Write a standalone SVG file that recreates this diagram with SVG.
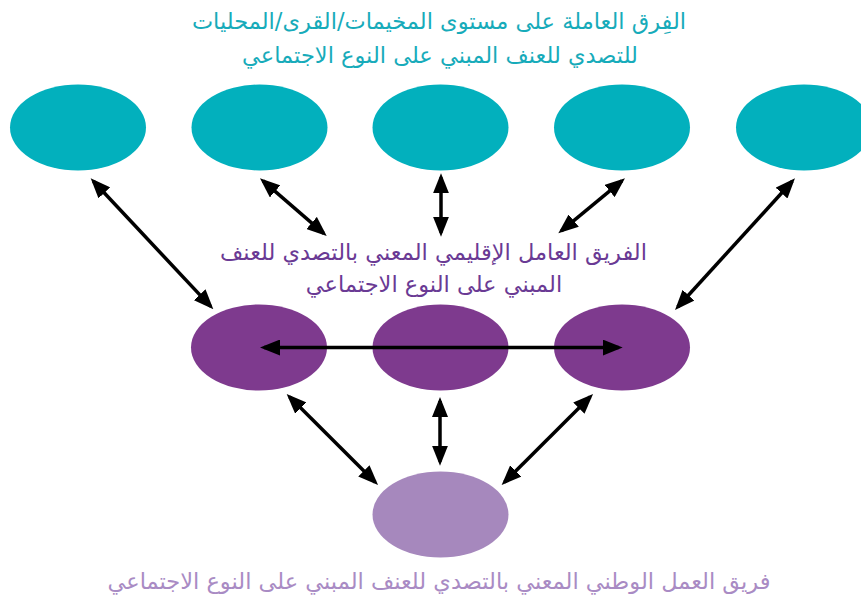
<svg xmlns="http://www.w3.org/2000/svg" width="861" height="600" viewBox="0 0 861 600">
<style>
.teal{fill:#02B0BD}
.purple{fill:#7E3A8E}
.light{fill:#A688BD}
.conn line{stroke:#000;stroke-width:3.5;marker-start:url(#ah);marker-end:url(#ah)}
text{font-family:"DejaVu Sans","Noto Sans",sans-serif;text-anchor:middle;direction:rtl;font-size:22.5px}
.t1{fill:#17ABBA}
.t2{fill:#6A3A94}
.t3{fill:#A98BC4}
</style>
<defs>
<marker id="ah" viewBox="0 0 20 16" refX="16" refY="8" markerWidth="20" markerHeight="16" markerUnits="userSpaceOnUse" orient="auto-start-reverse">
<path d="M0,0 L20,8 L0,16 Z" fill="#000"/>
</marker>
</defs>
<rect width="861" height="600" fill="#fff"/>
<g id="title-top"><text class="t1" x="439" y="29">الفِرق العاملة على مستوى المخيمات/القرى/المحليات</text><text class="t1" x="440" y="63">للتصدي للعنف المبني على النوع الاجتماعي</text></g>
<g id="top1"><ellipse class="teal" cx="78" cy="127.5" rx="68" ry="43"/></g>
<g id="top2"><ellipse class="teal" cx="259.5" cy="127.5" rx="68" ry="43"/></g>
<g id="top3"><ellipse class="teal" cx="440.5" cy="127.5" rx="68" ry="43"/></g>
<g id="top4"><ellipse class="teal" cx="622" cy="127.5" rx="68" ry="43"/></g>
<g id="top5"><ellipse class="teal" cx="804" cy="127.5" rx="68" ry="43"/></g>
<g id="title-mid"><text class="t2" x="433.5" y="260">الفريق العامل الإقليمي المعني بالتصدي للعنف</text><text class="t2" x="434" y="292">المبني على النوع الاجتماعي</text></g>
<g id="mid1"><ellipse class="purple" cx="259" cy="347.5" rx="68" ry="43"/></g>
<g id="mid2"><ellipse class="purple" cx="440.5" cy="347.5" rx="68" ry="43"/></g>
<g id="mid3"><ellipse class="purple" cx="622" cy="347.5" rx="68" ry="43"/></g>
<g id="bottom"><ellipse class="light" cx="440.5" cy="514.5" rx="68" ry="43"/></g>
<g id="title-bottom"><text class="t3" x="439" y="589">فريق العمل الوطني المعني بالتصدي للعنف المبني على النوع الاجتماعي</text></g>
<g id="connectors" class="conn">
<line x1="93.4" y1="181.2" x2="210.6" y2="306.4"/>
<line x1="263" y1="180.9" x2="323.7" y2="233.4"/>
<line x1="441" y1="177.3" x2="441" y2="232.7"/>
<line x1="621.9" y1="180.8" x2="561.4" y2="230.8"/>
<line x1="792.3" y1="181.3" x2="677.7" y2="307"/>
<line x1="264" y1="347.5" x2="618.7" y2="347.5"/>
<line x1="289.5" y1="396.8" x2="375.2" y2="482.2"/>
<line x1="440" y1="401" x2="440" y2="461.7"/>
<line x1="590.2" y1="396.8" x2="504.5" y2="482.2"/>
</g>
</svg>
